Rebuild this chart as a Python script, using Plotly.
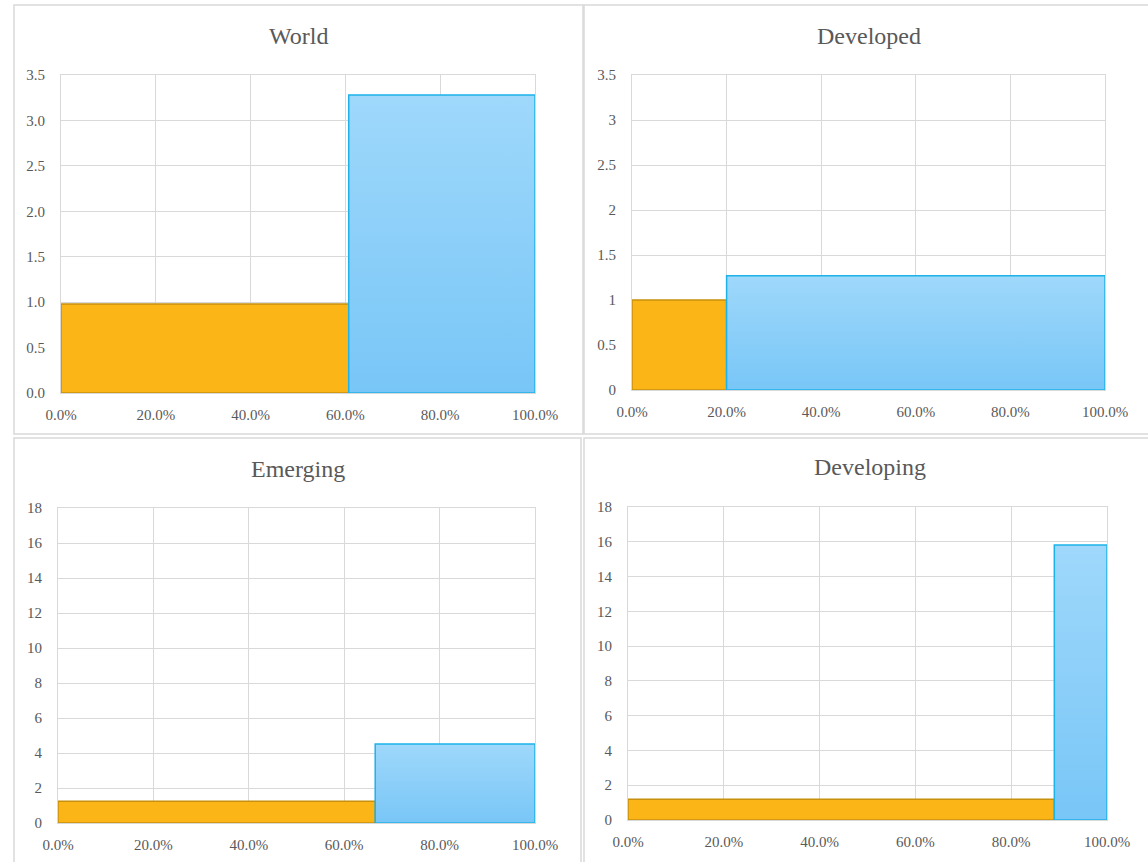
import plotly.graph_objects as go

# ---- data ----
panels = ["World", "Developed", "Emerging", "Developing"]
orange_share = [0.607, 0.20, 0.665, 0.89]     # width of first (orange) block, fraction of total
orange_value = [0.98, 1.00, 1.25, 1.20]
blue_value = [3.28, 1.27, 4.52, 15.82]
y_max = [3.5, 3.5, 18, 18]
y_dtick = [0.5, 0.5, 2, 2]
y_fmt = [".1f", "", "", ""]
x_ticks = [0, 0.2, 0.4, 0.6, 0.8, 1.0]

W, H = 1148, 862

# plot-area rectangles in pixels (left, right, top, bottom)
plot_px = [(61, 535, 75, 393), (632, 1105, 75, 390), (58, 535, 508, 823), (628, 1107, 507, 820)]
panel_px = [(14, 583, 5, 434), (584, 1152, 5, 434), (14, 581, 438, 870), (584, 1152, 438, 870)]
title_px = [(298, 36), (869, 36), (298, 469), (870, 467)]

TXT = "#595959"
GRID = "#D9D9D9"
FONT = "Liberation Serif"

fig = go.Figure()
layout = dict(width=W, height=H, margin=dict(l=0, r=0, t=0, b=0, autoexpand=False),
              paper_bgcolor="white", plot_bgcolor="white", showlegend=False,
              font=dict(family=FONT, color=TXT, size=15))
shapes, annotations = [], []

for i, name in enumerate(panels):
    n = "" if i == 0 else str(i + 1)
    xa, ya = "x" + n, "y" + n
    l, r, t, b = plot_px[i]
    s = orange_share[i]
    # orange block
    fig.add_trace(go.Scatter(x=[0, 0, s, s, 0], y=[0, orange_value[i], orange_value[i], 0, 0],
                             fill="toself", mode="lines", fillcolor="#FBB516",
                             line=dict(color="#C8900C", width=1.5), xaxis=xa, yaxis=ya,
                             hoverinfo="skip"))
    # blue block (vertical gradient)
    fig.add_trace(go.Scatter(x=[s, s, 1, 1, s], y=[0, blue_value[i], blue_value[i], 0, 0],
                             fill="toself", mode="lines",
                             fillgradient=dict(type="vertical",
                                               colorscale=[[0, "#78C6F7"], [1, "#9FD8FB"]]),
                             line=dict(color="#1DB2E9", width=1.5), xaxis=xa, yaxis=ya,
                             hoverinfo="skip"))
    layout["xaxis" + n] = dict(domain=[l / W, r / W], range=[0, 1], tickvals=x_ticks,
                               tickformat=".1%", showgrid=True, gridcolor=GRID, gridwidth=1,
                               zeroline=False, showline=True, linecolor=GRID, mirror=True,
                               ticks="", ticklabelstandoff=8, anchor=ya, fixedrange=True,
                               automargin=False)
    layout["yaxis" + n] = dict(domain=[1 - b / H, 1 - t / H], range=[0, y_max[i]],
                               dtick=y_dtick[i], tick0=0, tickformat=y_fmt[i],
                               showgrid=True, gridcolor=GRID, gridwidth=1,
                               zeroline=False, showline=True, linecolor=GRID, mirror=True,
                               ticks="", ticklabelstandoff=12, anchor=xa, fixedrange=True,
                               automargin=False)
    pl, pr, pt, pb = panel_px[i]
    shapes.append(dict(type="rect", xref="paper", yref="paper",
                       x0=pl / W, x1=pr / W, y0=1 - pb / H, y1=1 - pt / H,
                       line=dict(color=GRID, width=1.5), fillcolor="rgba(0,0,0,0)", layer="below"))
    tx, ty = title_px[i]
    annotations.append(dict(text=name, xref="paper", yref="paper", x=tx / W, y=1 - ty / H,
                            xanchor="center", yanchor="middle", showarrow=False,
                            font=dict(family=FONT, size=24, color=TXT)))

layout["shapes"] = shapes
layout["annotations"] = annotations
fig.update_layout(**layout)
fig.write_html("out.html")
